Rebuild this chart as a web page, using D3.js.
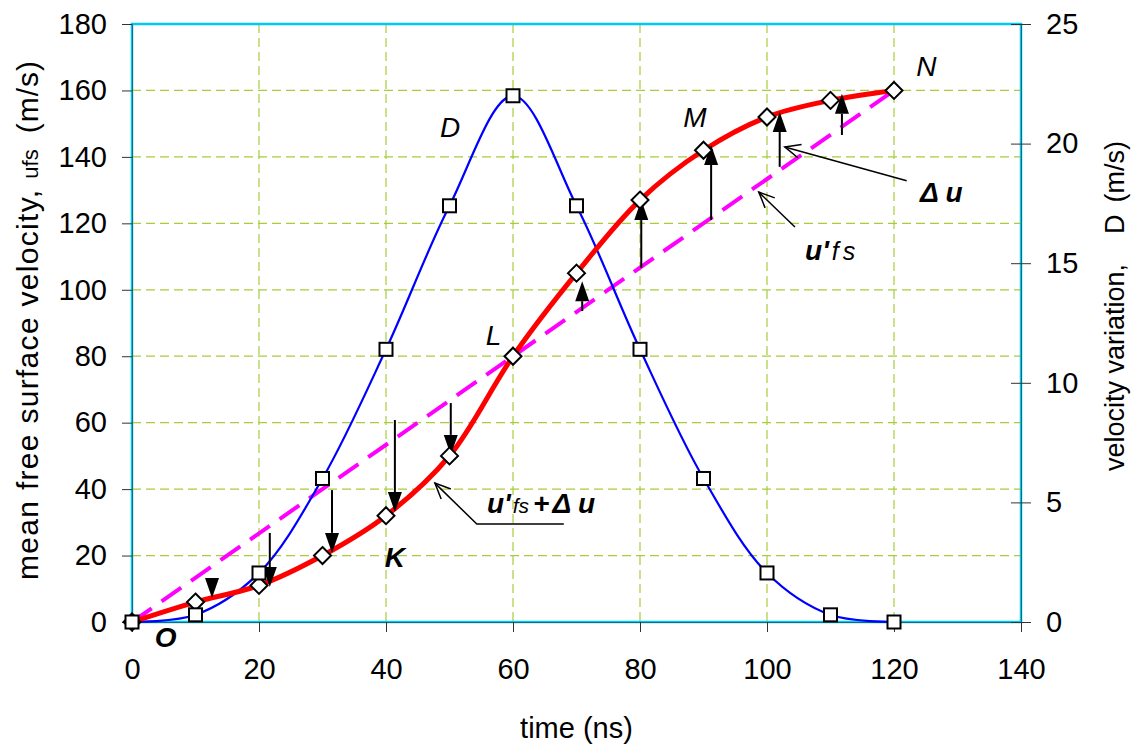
<!DOCTYPE html>
<html lang="en">
<head>
  <meta charset="UTF-8" />
  <title>Free surface velocity</title>
  <script src="https://d3js.org/d3.v7.min.js"></script>
  <style>
    body { margin: 0; background: #fff; font-family: "Liberation Sans", Arial, sans-serif; }
    text { fill: #000; }
  </style>
</head>
<body>
  <svg width="1135" height="747"></svg>

  <script>
  // time (ns)
  const times = [0, 10, 20, 30, 40, 50, 60, 70, 80, 90, 100, 110, 120];
  // mean free surface velocity u_fs (m/s), left axis
  const ufs = [0, 6, 11, 20, 32, 50, 80, 105, 127, 142, 152, 157, 160];
  // velocity variation D (m/s), right axis
  const dVar = [0, 0.3, 2.05, 6.0, 11.4, 17.4, 22.0, 17.4, 11.4, 6.0, 2.05, 0.3, 0];
  // straight reference line u'fs
  const uPrime = [[0, 0], [120, 160]];
  // delta-u arrows: [time, from, to]
  const deltaArrows = [
    [12.6, 13.2, 7.2], [21.7, 26.8, 10.5], [31.5, 39.7, 20.8], [41.4, 60.8, 33.1], [50.2, 65.9, 50.3],
    [70.9, 93.6, 102.6], [80.2, 106.6, 127], [91.2, 121, 143.6], [102, 137, 153.5], [111.8, 146.6, 159]
  ];
  const xTicks = [0, 20, 40, 60, 80, 100, 120, 140];
  const yTicks = [0, 20, 40, 60, 80, 100, 120, 140, 160, 180];
  const y2Ticks = [0, 5, 10, 15, 20, 25];

  const svg = d3.select("svg");
  const x = d3.scaleLinear().domain([0, 140]).range([132, 1021]);
  const y = d3.scaleLinear().domain([0, 180]).range([622, 24]);
  const y2 = d3.scaleLinear().domain([0, 25]).range([622, 24]);

  // grid
  const grid = svg.append("g").attr("stroke", "#a8cc3c").attr("stroke-width", 1.2).attr("stroke-dasharray", "9,5");
  grid.selectAll("line.v").data(xTicks.slice(1, -1)).enter().append("line")
    .attr("x1", d => x(d)).attr("x2", d => x(d)).attr("y1", y(180)).attr("y2", y(0));
  grid.selectAll("line.h").data(yTicks.slice(1, -1)).enter().append("line")
    .attr("x1", x(0)).attr("x2", x(140)).attr("y1", d => y(d)).attr("y2", d => y(d));

  // frame
  svg.append("rect")
    .attr("x", x(0)).attr("y", y(180)).attr("width", x(140) - x(0)).attr("height", y(0) - y(180))
    .attr("fill", "none").attr("stroke", "#00c8f5").attr("stroke-width", 2.5);

  // axes
  const axL = svg.append("g").attr("transform", `translate(${x(0)},0)`)
    .call(d3.axisLeft(y).tickValues(yTicks).tickSize(10).tickPadding(15));
  const axB = svg.append("g").attr("transform", `translate(0,${y(0)})`)
    .call(d3.axisBottom(x).tickValues(xTicks).tickSize(10).tickPadding(26));
  const axR = svg.append("g").attr("transform", `translate(${x(140)},0)`)
    .call(d3.axisRight(y2).tickValues(y2Ticks).tickSize(10).tickPadding(15));
  axR.selectAll(".tick line").attr("x1", -10);
  [axL, axB, axR].forEach(a => {
    a.select(".domain").attr("stroke", "#1a6a78").attr("stroke-width", 1);
    a.selectAll(".tick line").attr("stroke", "#333");
    a.selectAll("text").style("font-size", "29px").style("font-family", "'Liberation Sans', Arial, sans-serif");
  });

  // u'fs dashed line
  const line = d3.line().x(d => x(d[0])).y(d => y(d[1]));
  svg.append("path").datum(uPrime).attr("d", line)
    .attr("fill", "none").attr("stroke", "#ff00ff").attr("stroke-width", 4).attr("stroke-dasharray", "24,12");

  // D curve (blue)
  const dPts = times.map((t, i) => [t, dVar[i]]);
  svg.append("path").datum(dPts)
    .attr("d", d3.line().x(d => x(d[0])).y(d => y2(d[1])).curve(d3.curveCatmullRom.alpha(0.5)))
    .attr("fill", "none").attr("stroke", "#0000ff").attr("stroke-width", 2.2);

  // ufs curve (red)
  const uPts = times.map((t, i) => [t, ufs[i]]);
  svg.append("path").datum(uPts)
    .attr("d", d3.line().x(d => x(d[0])).y(d => y(d[1])).curve(d3.curveCatmullRom.alpha(0.5)))
    .attr("fill", "none").attr("stroke", "#ff0000").attr("stroke-width", 5);

  // delta-u arrows
  const ag = svg.append("g");
  deltaArrows.forEach(([t, a, b]) => {
    const px = x(t), y0 = y(a), y1 = y(b);
    const dir = y1 > y0 ? 1 : -1;
    const hl = 20, hw = 7;
    ag.append("line").attr("x1", px).attr("x2", px).attr("y1", y0).attr("y2", y1 - dir * hl)
      .attr("stroke", "#000").attr("stroke-width", 2);
    ag.append("path")
      .attr("d", `M${px},${y1}L${px - hw},${y1 - dir * hl}L${px + hw},${y1 - dir * hl}Z`)
      .attr("fill", "#000");
  });

  // markers
  svg.append("g").selectAll("path").data(uPts).enter().append("path")
    .attr("d", d => { const cx = x(d[0]), cy = y(d[1]), r = 8.5; return `M${cx},${cy - r}L${cx + r},${cy}L${cx},${cy + r}L${cx - r},${cy}Z`; })
    .attr("fill", "#fff").attr("stroke", "#000").attr("stroke-width", 2);
  svg.append("g").selectAll("rect").data(dPts).enter().append("rect")
    .attr("x", d => x(d[0]) - 6.5).attr("y", d => y2(d[1]) - 6.5).attr("width", 13).attr("height", 13)
    .attr("fill", "#fff").attr("stroke", "#000").attr("stroke-width", 2);

  // leader lines with open arrowheads
  const leaders = [
    [[122.0, 132.8], [102.8, 143.0]],
    [[104.4, 118.9], [98.7, 129.4]],
    [[68.0, 29.5], [54.3, 29.5], [47.7, 41.8]]
  ];
  leaders.forEach(pts => {
    const p = pts.map(d => [x(d[0]), y(d[1])]);
    svg.append("path").attr("d", d3.line()(p)).attr("fill", "none").attr("stroke", "#000").attr("stroke-width", 1.5);
    const [ax, ay] = p[p.length - 1], [bx, by] = p[p.length - 2];
    const ang = Math.atan2(by - ay, bx - ax), L = 17, s = 0.42;
    svg.append("path")
      .attr("d", `M${ax + L * Math.cos(ang + s)},${ay + L * Math.sin(ang + s)}L${ax},${ay}L${ax + L * Math.cos(ang - s)},${ay + L * Math.sin(ang - s)}`)
      .attr("fill", "none").attr("stroke", "#000").attr("stroke-width", 1.5);
  });

  // point labels
  const labels = [
    { t: 48.5, u: 146, text: "D", w: "normal" },
    { t: 86.8, u: 149, text: "M", w: "normal" },
    { t: 123.5, u: 164.4, text: "N", w: "normal" },
    { t: 55.7, u: 83.4, text: "L", w: "normal" },
    { t: 39.8, u: 16.6, text: "K", w: "bold" },
    { t: 3.6, u: -7.5, text: "O", w: "bold" }
  ];
  svg.append("g").selectAll("text").data(labels).enter().append("text")
    .attr("x", d => x(d.t)).attr("y", d => y(d.u))
    .style("font-size", "28px").style("font-style", "italic").style("font-weight", d => d.w)
    .text(d => d.text);

  // formula labels
  const du = svg.append("text").attr("x", x(124.1)).attr("y", y(126.4))
    .style("font-size", "28px").style("font-style", "italic").style("font-weight", "bold");
  du.append("tspan").text("Δ u");

  const up = svg.append("text").attr("x", x(106)).attr("y", y(109))
    .style("font-size", "28px").style("font-style", "italic");
  up.append("tspan").style("font-weight", "bold").text("u'");
  up.append("tspan").attr("dx", 3).style("font-size", "25px").attr("letter-spacing", "4").text("fs");

  const us = svg.append("text").attr("x", x(55.9)).attr("y", y(32.8))
    .style("font-size", "28px").style("font-style", "italic").style("font-weight", "bold");
  us.append("tspan").text("u'");
  us.append("tspan").attr("dx", 2).style("font-size", "21px").style("font-weight", "normal").text("fs");
  us.append("tspan").attr("dx", 4).text("+");
  us.append("tspan").attr("dx", 3).text("Δ u");

  // axis titles
  svg.append("text").attr("x", x(70)).attr("y", 738).attr("text-anchor", "middle")
    .style("font-size", "29px").text("time (ns)");

  const lt = svg.append("text").attr("transform", "translate(38,580) rotate(-90)")
    .style("font-size", "30px");
  lt.append("tspan").attr("letter-spacing", "1.3").text("mean free surface velocity,");
  lt.append("tspan").attr("dx", 10).style("font-size", "22px").text("ufs");
  lt.append("tspan").attr("dx", 16).attr("letter-spacing", "1").text("(m/s)");

  const rt = svg.append("text").attr("transform", "translate(1124,471) rotate(-90)")
    .style("font-size", "27px");
  rt.append("tspan").text("velocity variation,");
  rt.append("tspan").attr("dx", 30).text("D");
  rt.append("tspan").attr("dx", 12).text("(m/s)");
  </script>
</body>
</html>
